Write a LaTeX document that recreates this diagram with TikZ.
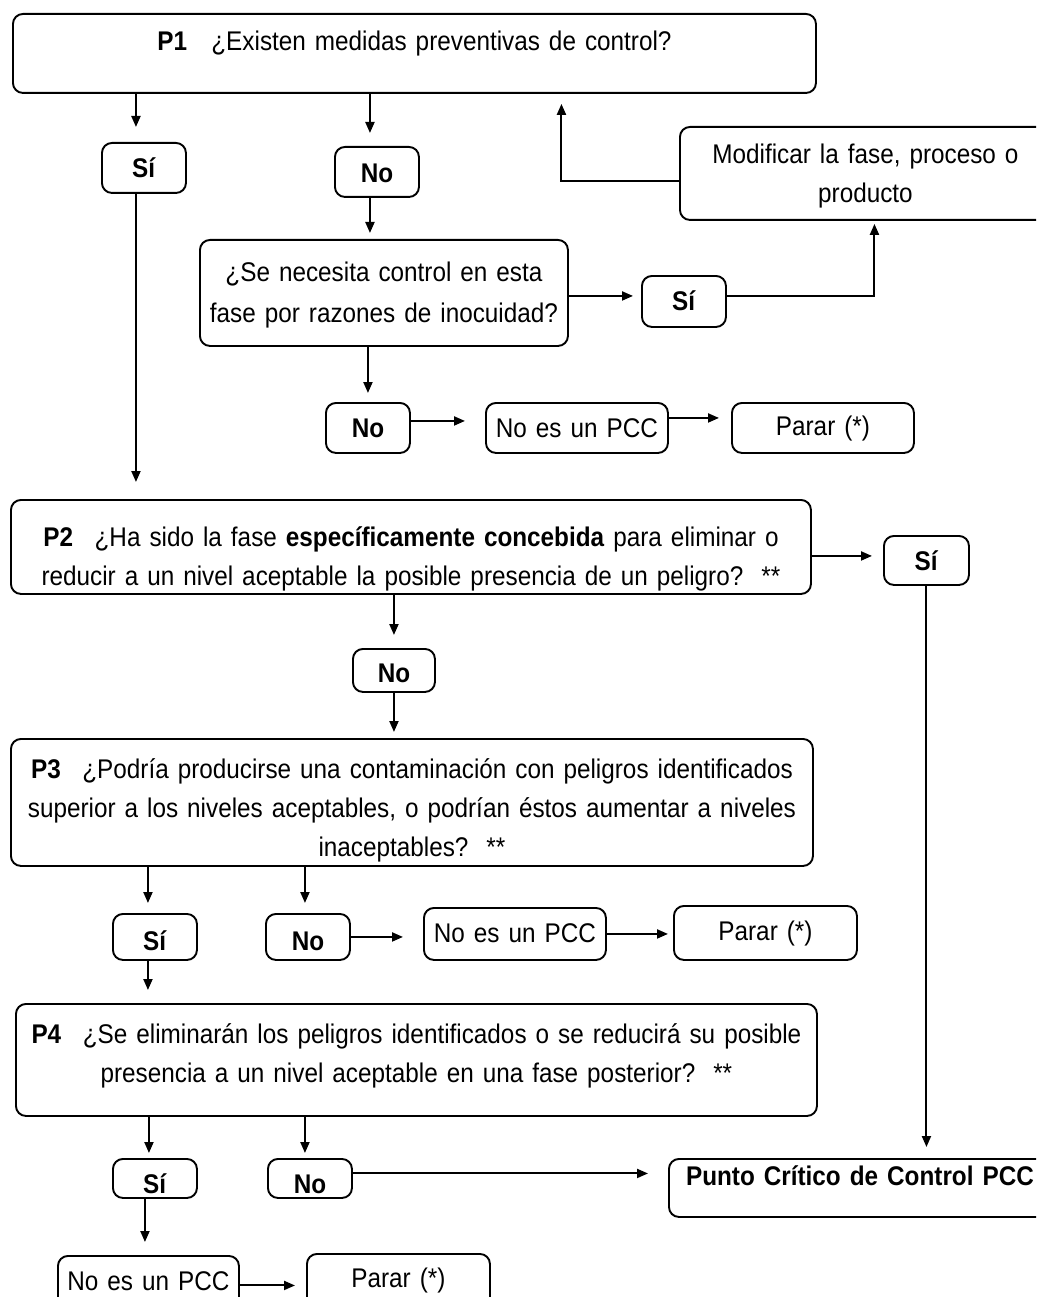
\documentclass[tikz,border=0pt]{standalone}
\usepackage{fontspec}
\setmainfont{Liberation Sans}[FakeStretch=0.9]
\usetikzlibrary{arrows.meta}

\tikzset{
  flowbox/.style={draw, line width=1.9pt, rounded corners=10pt, inner sep=0pt,
    align=center, anchor=north west, font=\fontsize{27}{39}\selectfont},
  link/.style={line width=2pt, -{Triangle[length=11pt,width=9pt]}, shorten >=10pt},
}

\begin{document}
\begin{tikzpicture}[x=1pt, y=-1pt]
    \useasboundingbox (0,0) rectangle (1036,1297);
    \clip (0,0) rectangle (1036,1297);

    % P1 and its branches
    \node[flowbox, text width=803pt, text height=37pt, text depth=42pt] (p1) at (12,13)
        {\textbf{P1}\hspace{0.9em}¿Existen medidas preventivas de control?};
    \node[flowbox, text width=84pt, text height=35pt, text depth=15pt] (si1) at (101,142) {\textbf{Sí}};
    \node[flowbox, text width=84pt, text height=36pt, text depth=14pt] (no1) at (334,146) {\textbf{No}};
    \node[flowbox, text width=371pt, text height=37pt, text depth=56pt] (modif) at (679,126)
        {Modificar la fase, proceso o\\producto};
    \node[flowbox, text width=368pt, text height=42pt, text depth=64pt,
          font=\fontsize{27}{41}\selectfont] (q) at (199,239)
        {¿Se necesita control en esta\\fase por razones de inocuidad?};
    \node[flowbox, text width=84pt, text height=35pt, text depth=16pt] (si2) at (641,275) {\textbf{Sí}};
    \node[flowbox, text width=84pt, text height=35pt, text depth=15pt] (no2) at (325,402) {\textbf{No}};
    \node[flowbox, text width=182pt, text height=35pt, text depth=15pt] (nopcc1) at (485,402) {No es un PCC};
    \node[flowbox, text width=182pt, text height=33pt, text depth=17pt] (parar1) at (731,402) {Parar (*)};

    % P2
    \node[flowbox, text width=800pt, text height=47pt, text depth=47pt] (p2) at (10,499)
        {\textbf{P2}\hspace{0.8em}¿Ha sido la fase \textbf{específicamente concebida} para eliminar o\\
         reducir a un nivel aceptable la posible presencia de un peligro?\ \ **};
    \node[flowbox, text width=85pt, text height=35pt, text depth=14pt] (si3) at (883,535) {\textbf{Sí}};
    \node[flowbox, text width=82pt, text height=34pt, text depth=9pt] (no3) at (352,648) {\textbf{No}};

    % P3
    \node[flowbox, text width=802pt, text height=40pt, text depth=87pt] (p3) at (10,738)
        {\textbf{P3}\hspace{0.8em}¿Podría producirse una contaminación con peligros identificados\\
         superior a los niveles aceptables, o podrían éstos aumentar a niveles\\
         inaceptables?\ \ **};
    \node[flowbox, text width=84pt, text height=37pt, text depth=9pt] (si4) at (112,913) {\textbf{Sí}};
    \node[flowbox, text width=84pt, text height=37pt, text depth=9pt] (no4) at (265,913) {\textbf{No}};
    \node[flowbox, text width=182pt, text height=35pt, text depth=17pt] (nopcc2) at (423,907) {No es un PCC};
    \node[flowbox, text width=183pt, text height=35pt, text depth=19pt] (parar2) at (673,905) {Parar (*)};

    % P4
    \node[flowbox, text width=801pt, text height=40pt, text depth=72pt] (p4) at (15,1003)
        {\textbf{P4}\hspace{0.8em}¿Se eliminarán los peligros identificados o se reducirá su posible\\
         presencia a un nivel aceptable en una fase posterior?\ \ **};
    \node[flowbox, text width=84pt, text height=35pt, text depth=4pt] (si5) at (112,1158) {\textbf{Sí}};
    \node[flowbox, text width=84pt, text height=35pt, text depth=4pt] (no5) at (267,1158) {\textbf{No}};
    \node[flowbox, text width=382pt, text height=27pt, text depth=31pt] (pcc) at (668,1158)
        {\textbf{Punto Crítico de Control PCC}};
    \node[flowbox, text width=181pt, text height=35pt, text depth=28pt] (nopcc3) at (57,1255) {No es un PCC};
    \node[flowbox, text width=183pt, text height=34pt, text depth=32pt] (parar3) at (306,1253) {Parar (*)};

    % connectors from P1
    \draw[link, shorten >=15pt] ([xshift=-8pt]si1.north |- p1.south) -- ([xshift=-8pt]si1.north);
    \draw[link, shorten >=13pt] ([xshift=-7pt]no1.north |- p1.south) -- ([xshift=-7pt]no1.north);
    \draw[link, shorten >=17pt] ([xshift=-8pt]si1.south) -- ([xshift=-8pt]si1.south |- p2.north);
    \draw[link, shorten >=6pt] ([xshift=-7pt]no1.south) -- ([xshift=-7pt]no1.south |- q.north);
    \draw[link, shorten >=8pt] ([yshift=-3pt]q.east) -- ([yshift=-3pt]q.east -| si2.west);
    \draw[link, shorten >=3pt] ([yshift=5pt]si2.east) -| ([xshift=9pt]modif.south);
    \draw[link] ([yshift=-8pt]modif.west) -| ([xshift=147pt]p1.south);
    \draw[link, shorten >=9pt] (q.south -| no2.north) -- (no2.north);
    \draw[link, shorten >=20pt] ([yshift=7pt]no2.east) -- ([yshift=7pt]no2.east -| nopcc1.west);
    \draw[link, shorten >=12pt] ([yshift=10pt]nopcc1.east) -- ([yshift=10pt]nopcc1.east -| parar1.west);

    % connectors from P2
    \draw[link, shorten >=11pt] ([yshift=-9pt]p2.east) -- ([yshift=-9pt]p2.east -| si3.west);
    \draw[link, shorten >=13pt] (p2.south -| no3.north) -- (no3.north);
    \draw[link, shorten >=6pt] (no3.south) -- (no3.south |- p3.north);
    \draw[link, shorten >=11pt] (si3.south) -- (si3.south |- pcc.north);

    % connectors from P3
    \draw[link] ([xshift=-7pt]si4.north |- p3.south) -- ([xshift=-7pt]si4.north);
    \draw[link] ([xshift=-3pt]no4.north |- p3.south) -- ([xshift=-3pt]no4.north);
    \draw[link, shorten >=20pt] (no4.east) -- (no4.east -| nopcc2.west);
    \draw[link, shorten >=5pt] (nopcc2.east) -- (nopcc2.east -| parar2.west);
    \draw[link, shorten >=13pt] ([xshift=-7pt]si4.south) -- ([xshift=-7pt]si4.south |- p4.north);

    % connectors from P4
    \draw[link, shorten >=5pt] ([xshift=-6pt]si5.north |- p4.south) -- ([xshift=-6pt]si5.north);
    \draw[link, shorten >=5pt] ([xshift=-5pt]no5.north |- p4.south) -- ([xshift=-5pt]no5.north);
    \draw[link, shorten >=20pt] ([yshift=5pt]no5.east) -- ([yshift=5pt]no5.east -| pcc.west);
    \draw[link, shorten >=13pt] ([xshift=-10pt]si5.south) -- ([xshift=-10pt]si5.south |- nopcc3.north);
    \draw[link, shorten >=11pt] ([yshift=2pt]nopcc3.east) -- ([yshift=2pt]nopcc3.east -| parar3.west);
\end{tikzpicture}
\end{document}
